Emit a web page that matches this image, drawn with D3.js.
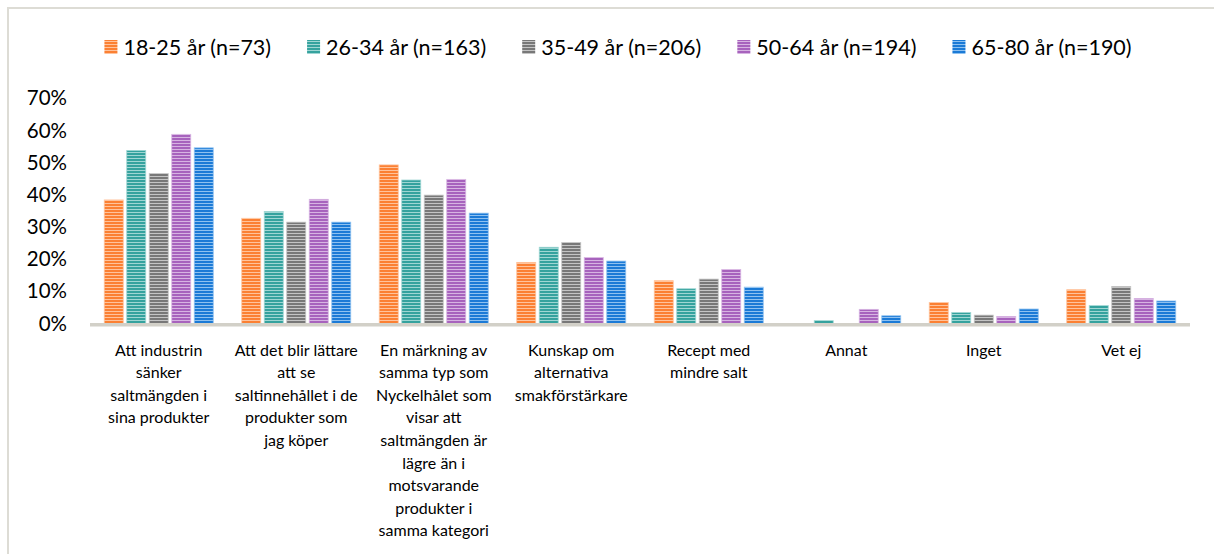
<!DOCTYPE html>
<html>
<head>
<meta charset="utf-8">
<script src="https://cdn.jsdelivr.net/npm/d3@7"></script>
<style>
  html, body { margin: 0; padding: 0; background: #ffffff; }
  svg { display: block; font-family: Lato, "Open Sans", sans-serif; }
</style>
</head>
<body>
<svg id="chart" width="1214" height="554"></svg>
<script>
// Answer categories (line breaks as shown under the axis)
const categories = [
  "Att industrin\nsänker\nsaltmängden i\nsina produkter",
  "Att det blir lättare\natt se\nsaltinnehållet i de\nprodukter som\njag köper",
  "En märkning av\nsamma typ som\nNyckelhålet som\nvisar att\nsaltmängden är\nlägre än i\nmotsvarande\nprodukter i\nsamma kategori",
  "Kunskap om\nalternativa\nsmakförstärkare",
  "Recept med\nmindre salt",
  "Annat",
  "Inget",
  "Vet ej"
];

// Age groups
const seriesNames = [
  "18-25 år (n=73)",
  "26-34 år (n=163)",
  "35-49 år (n=206)",
  "50-64 år (n=194)",
  "65-80 år (n=190)"
];

// Share of respondents per category, one array per age group
const age18_25 = [0.384, 0.327, 0.493, 0.190, 0.133, 0.000, 0.065, 0.105];
const age26_34 = [0.538, 0.348, 0.446, 0.237, 0.108, 0.009, 0.034, 0.056];
const age35_49 = [0.466, 0.315, 0.399, 0.252, 0.138, 0.000, 0.026, 0.115];
const age50_64 = [0.588, 0.386, 0.448, 0.205, 0.168, 0.044, 0.022, 0.078];
const age65_80 = [0.546, 0.315, 0.343, 0.194, 0.113, 0.024, 0.045, 0.070];
const seriesValues = [age18_25, age26_34, age35_49, age50_64, age65_80];

const yTicks = [0, 0.1, 0.2, 0.3, 0.4, 0.5, 0.6, 0.7];

// Base and stripe colours per series
const colors = ["#fb8033", "#35a29e", "#787878", "#a763bd", "#1b7ad6"];
const stripes = ["#ffc39c", "#9fd6d3", "#c4c4c4", "#d7b4e2", "#8ec1f0"];

const svg = d3.select("#chart");

// Outer frame
svg.append("path")
  .attr("d", "M8,560 V8 H1220")
  .attr("fill", "none")
  .attr("stroke", "#dddcd5")
  .attr("stroke-width", 2);

// Striped fills
const defs = svg.append("defs");
colors.forEach((c, i) => {
  const p = defs.append("pattern")
    .attr("id", "stripe" + i)
    .attr("patternUnits", "userSpaceOnUse")
    .attr("width", 6).attr("height", 3);
  p.append("rect").attr("width", 6).attr("height", 3).attr("fill", c);
  p.append("rect").attr("y", 2).attr("width", 6).attr("height", 1).attr("fill", stripes[i]);
});

const plot = { left: 90, right: 1190, top: 98.3, bottom: 323.5 };

const x = d3.scaleBand()
  .domain(d3.range(categories.length))
  .range([plot.left, plot.right])
  .paddingInner(0).paddingOuter(0);

const xs = d3.scaleBand()
  .domain(d3.range(seriesNames.length))
  .range([0, x.bandwidth()])
  .paddingInner(0.156)
  .paddingOuter(0.633);

const y = d3.scaleLinear()
  .domain([0, 0.7])
  .range([plot.bottom, plot.top]);

// Y axis labels (no axis line, no gridlines)
const yAxis = svg.append("g")
  .attr("transform", `translate(${67},0)`)
  .call(d3.axisLeft(y).tickValues(yTicks).tickFormat(d3.format(".0%")).tickSize(0).tickPadding(0));
yAxis.select(".domain").remove();
yAxis.selectAll("text")
  .attr("font-family", "Lato, sans-serif")
  .attr("font-size", 20.5)
  .attr("fill", "#000");

// Bars
const groups = svg.append("g").selectAll("g")
  .data(categories)
  .join("g")
  .attr("transform", (d, i) => `translate(${x(i)},0)`);

groups.selectAll("rect")
  .data((d, ci) => seriesValues.map((vals, si) => ({ si, v: vals[ci] })))
  .join("rect")
  .filter(d => d.v > 0)
  .attr("x", d => xs(d.si))
  .attr("width", xs.bandwidth())
  .attr("y", d => y(d.v))
  .attr("height", d => y(0) - y(d.v))
  .attr("fill", d => `url(#stripe${d.si})`)
  .attr("stroke", d => stripes[d.si])
  .attr("stroke-width", 0.8);

// Category axis line
svg.append("rect")
  .attr("x", plot.left)
  .attr("y", plot.bottom - 0.5)
  .attr("width", plot.right - plot.left)
  .attr("height", 3.5)
  .attr("fill", "#d2d0c8");

// Category labels
const labels = svg.append("g")
  .attr("font-size", 16)
  .attr("text-anchor", "middle")
  .attr("fill", "#000");
categories.forEach((c, i) => {
  const cx = x(i) + x.bandwidth() / 2;
  const t = labels.append("text").attr("x", cx).attr("y", 355.5);
  c.split("\n").forEach((line, k) => {
    t.append("tspan")
      .attr("x", cx)
      .attr("y", 355.5 + k * 22.6)
      .text(line);
  });
});

// Legend
const legend = svg.append("g").attr("font-size", 21.5).attr("fill", "#000");
const items = legend.selectAll("g").data(seriesNames).join("g");
items.append("rect")
  .attr("width", 13).attr("height", 14)
  .attr("y", 40)
  .attr("fill", (d, i) => `url(#stripe${i})`);
items.append("text")
  .attr("x", 19)
  .attr("y", 54.5)
  .text(d => d);
const widths = [];
items.each(function () {
  widths.push(19 + d3.select(this).select("text").node().getComputedTextLength());
});
const gap = 36;
const total = d3.sum(widths) + gap * (widths.length - 1);
const start = 618 - total / 2;
let cursor = 0;
items.attr("transform", (d, i) => {
  const tx = start + cursor;
  cursor += widths[i] + gap;
  return `translate(${tx},0)`;
});
</script>
</body>
</html>
